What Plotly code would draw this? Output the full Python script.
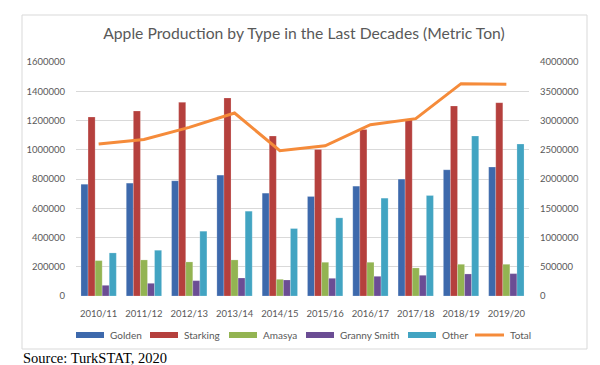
import plotly.graph_objects as go

categories = ["2010/11", "2011/12", "2012/13", "2013/14", "2014/15",
              "2015/16", "2016/17", "2017/18", "2018/19", "2019/20"]
golden = [764800, 771700, 787700, 826500, 703200, 680400, 751100, 799100, 863000, 881300]
starking = [1223700, 1264800, 1324200, 1353900, 1093600, 1002300, 1139300, 1210000, 1299100, 1321900]
amasya = [242000, 246600, 232900, 246600, 114200, 230600, 230600, 191800, 216900, 216900]
granny_smith = [73000, 86800, 105000, 123300, 109600, 121000, 134700, 141600, 150700, 153000]
other = [294500, 312800, 443000, 579900, 461200, 534200, 669000, 687200, 1093600, 1038800]
total = [2597000, 2677000, 2882000, 3128000, 2483000, 2568000, 2928000, 3031000, 3630000, 3619000]

left_ticks = [0, 200000, 400000, 600000, 800000, 1000000, 1200000, 1400000, 1600000]
right_ticks = [0, 500000, 1000000, 1500000, 2000000, 2500000, 3000000, 3500000, 4000000]

bar_series = [
    ("Golden", golden, "#3D69AC"),
    ("Starking", starking, "#B5403D"),
    ("Amasya", amasya, "#93B452"),
    ("Granny Smith", granny_smith, "#6B4D94"),
    ("Other", other, "#42A4C2"),
]
line_color = "#F58B3A"
text_color = "#595959"
font_family = "Lato, 'Open Sans', sans-serif"

fig = go.Figure()
for name, vals, col in bar_series:
    fig.add_trace(go.Bar(x=categories, y=vals, name=name, marker_color=col,
                         marker_line=dict(color="rgba(255,255,255,0.35)", width=0.6),
                         showlegend=False))
fig.add_trace(go.Scatter(x=categories, y=total, name="Total", mode="lines",
                         line=dict(color=line_color, width=3), yaxis="y2",
                         showlegend=False))

# plot area geometry (pixels)
L, R, T, B = 68, 79, 54, 77
W = 600 - L - R
H = 365 - T - B

def px_x(px):
    return (px - L) / W

def px_y(py):
    return (365 - B - py) / H

shapes = [dict(type="rect", xref="paper", yref="paper",
               x0=px_x(14), x1=px_x(579), y0=px_y(341), y1=px_y(7),
               line=dict(color="#D9D9D9", width=1), fillcolor="rgba(0,0,0,0)", layer="below")]
annotations = []

# custom legend
legend_items = [
    ("Golden", "#3D69AC", 68, 100, "bar"),
    ("Starking", "#B5403D", 142, 174, "bar"),
    ("Amasya", "#93B452", 221, 253, "bar"),
    ("Granny Smith", "#6B4D94", 298, 329.5, "bar"),
    ("Other", "#42A4C2", 400, 432, "bar"),
    ("Total", line_color, 467, 499.5, "line"),
]
ly = 327
for name, col, sx, tx, kind in legend_items:
    if kind == "bar":
        shapes.append(dict(type="rect", xref="paper", yref="paper",
                           x0=px_x(sx), x1=px_x(sx + 28), y0=px_y(ly + 3), y1=px_y(ly - 3),
                           fillcolor=col, line=dict(width=0)))
    else:
        shapes.append(dict(type="line", xref="paper", yref="paper",
                           x0=px_x(sx), x1=px_x(sx + 29), y0=px_y(ly), y1=px_y(ly),
                           line=dict(color=col, width=3)))
    annotations.append(dict(text=name, xref="paper", yref="paper", x=px_x(tx), y=px_y(ly),
                            xanchor="left", yanchor="middle", showarrow=False,
                            font=dict(family=font_family, size=10, color=text_color)))

annotations.append(dict(text="Source: TurkSTAT, 2020", xref="paper", yref="paper",
                        x=px_x(13), y=px_y(350), xanchor="left", yanchor="middle",
                        showarrow=False,
                        font=dict(family="Liberation Serif, 'Times New Roman', serif", size=14.5, color="#000000")))

fig.update_layout(
    width=600, height=365,
    margin=dict(l=L, r=R, t=T, b=B, pad=0),
    paper_bgcolor="white", plot_bgcolor="white",
    barmode="group", bargap=0.22, bargroupgap=0,
    title=dict(text="Apple Production by Type in the Last Decades (Metric Ton)",
               x=296 / 600, xanchor="center", xref="container",
               y=1 - 26 / 365, yanchor="middle",
               font=dict(family=font_family, size=15.7, color=text_color)),
    font=dict(family=font_family, size=9.5, color=text_color),
    xaxis=dict(type="category", showgrid=False, showline=False, zeroline=False,
               ticks="", ticklabelstandoff=10,
               tickfont=dict(family=font_family, size=9.5, color=text_color)),
    yaxis=dict(range=[0, 1600000], tickvals=left_ticks, tickformat="d",
               showgrid=True, gridcolor="#D9D9D9", gridwidth=1, zeroline=False,
               showline=False, ticks="", ticklabelstandoff=10,
               tickfont=dict(family=font_family, size=9.5, color=text_color)),
    yaxis2=dict(range=[0, 4000000], tickvals=right_ticks, tickformat="d",
                overlaying="y", side="right", showgrid=False, zeroline=False,
                showline=False, ticks="", ticklabelstandoff=10,
                tickfont=dict(family=font_family, size=9.5, color=text_color)),
    shapes=shapes, annotations=annotations,
)

fig.write_html("out.html")
